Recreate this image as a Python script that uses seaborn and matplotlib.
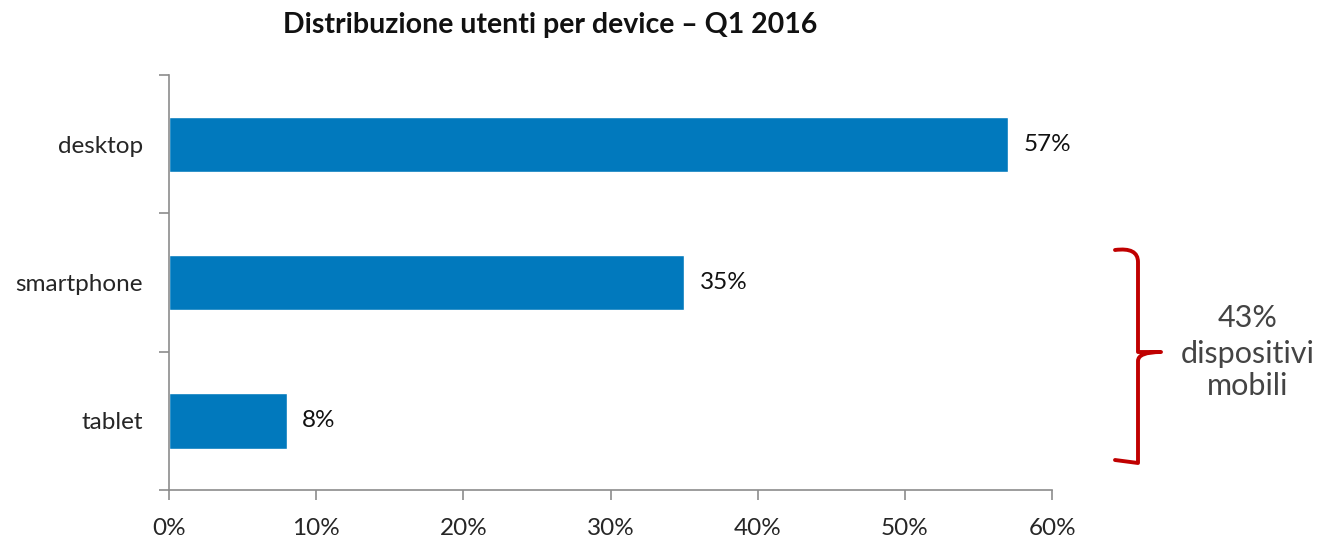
import numpy as np
import matplotlib.pyplot as plt
import pandas as pd
import seaborn as sns
from matplotlib.path import Path
from matplotlib.patches import PathPatch
from matplotlib.ticker import FixedLocator, PercentFormatter

devices = ['desktop', 'smartphone', 'tablet']
shares = [57, 35, 8]
xticks = [0, 10, 20, 30, 40, 50, 60]
mobile_note = ['43%', 'dispositivi', 'mobili']

sns.set_style('white')
plt.rcParams['font.family'] = ['Lato', 'DejaVu Sans']

df = pd.DataFrame({'device': devices, 'share': shares})

fig = plt.figure(figsize=(13.26, 5.37), dpi=100)
ax = fig.add_axes([0.1275, 0.0875, 0.666, 0.7728])

sns.barplot(data=df, x='share', y='device', orient='h', color='#0179BD',
            saturation=1, width=0.4, ax=ax)
ax.bar_label(ax.containers[0], labels=[f'{v}%' for v in shares],
             padding=11, fontsize=17.5, color='#111111')

ax.set_xlim(0, 60)
ax.set_ylim(2.5, -0.5)
ax.set_xticks(xticks)
ax.xaxis.set_major_formatter(PercentFormatter(decimals=0))
ax.set_xlabel('')
ax.set_ylabel('')

# category boundaries get the tick marks, labels sit on the minor ticks
ax.yaxis.set_major_locator(FixedLocator([-0.5, 0.5, 1.5, 2.5]))
ax.yaxis.set_minor_locator(FixedLocator(range(len(devices))))
ax.set_yticklabels([], minor=False)
ax.set_yticklabels(devices, minor=True)
ax.tick_params(axis='y', which='major', length=7, width=1.2, color='#8c8c8c', direction='out', left=True)
ax.tick_params(axis='y', which='minor', length=0, pad=19, labelsize=17.5)
ax.tick_params(axis='x', length=7, width=1.2, color='#8c8c8c', direction='out', bottom=True,
               pad=13, labelsize=17.5)

for s in ['top', 'right']:
    ax.spines[s].set_visible(False)
for s in ['left', 'bottom']:
    ax.spines[s].set_color('#8c8c8c')
    ax.spines[s].set_linewidth(1.2)

fig.text(0.415, 0.953, 'Distribuzione utenti per device \u2013 Q1 2016',
         ha='center', va='center', fontsize=20.5, fontweight='bold', color='#111111')

# red brace for mobile devices (figure pixel coords -> fraction)
W, H = 1326, 537
def p(x, y):
    return (x / W, 1 - y / H)

verts = [p(1115, 250), p(1138, 247), p(1138, 262), p(1138, 262),
         p(1138, 343), p(1138, 343), p(1138, 352), p(1161, 352),
         p(1138, 352), p(1138, 361), p(1138, 361),
         p(1138, 448), p(1138, 448), p(1138, 463), p(1115, 460)]
codes = [Path.MOVETO, Path.CURVE3, Path.CURVE3, Path.LINETO,
         Path.LINETO, Path.CURVE3, Path.CURVE3, Path.LINETO,
         Path.CURVE3, Path.CURVE3, Path.LINETO,
         Path.LINETO, Path.CURVE3, Path.CURVE3, Path.LINETO]
brace = PathPatch(Path(verts, codes), transform=fig.transFigure, fill=False,
                  edgecolor='#C00000', linewidth=2.8, capstyle='round', joinstyle='round')
fig.add_artist(brace)

for line, yy in zip(mobile_note, [318, 354, 386]):
    fig.text(1248 / W, 1 - yy / H, line, ha='center', va='center',
             fontsize=22, color='#444444')

fig.savefig('out.png', dpi=100)
